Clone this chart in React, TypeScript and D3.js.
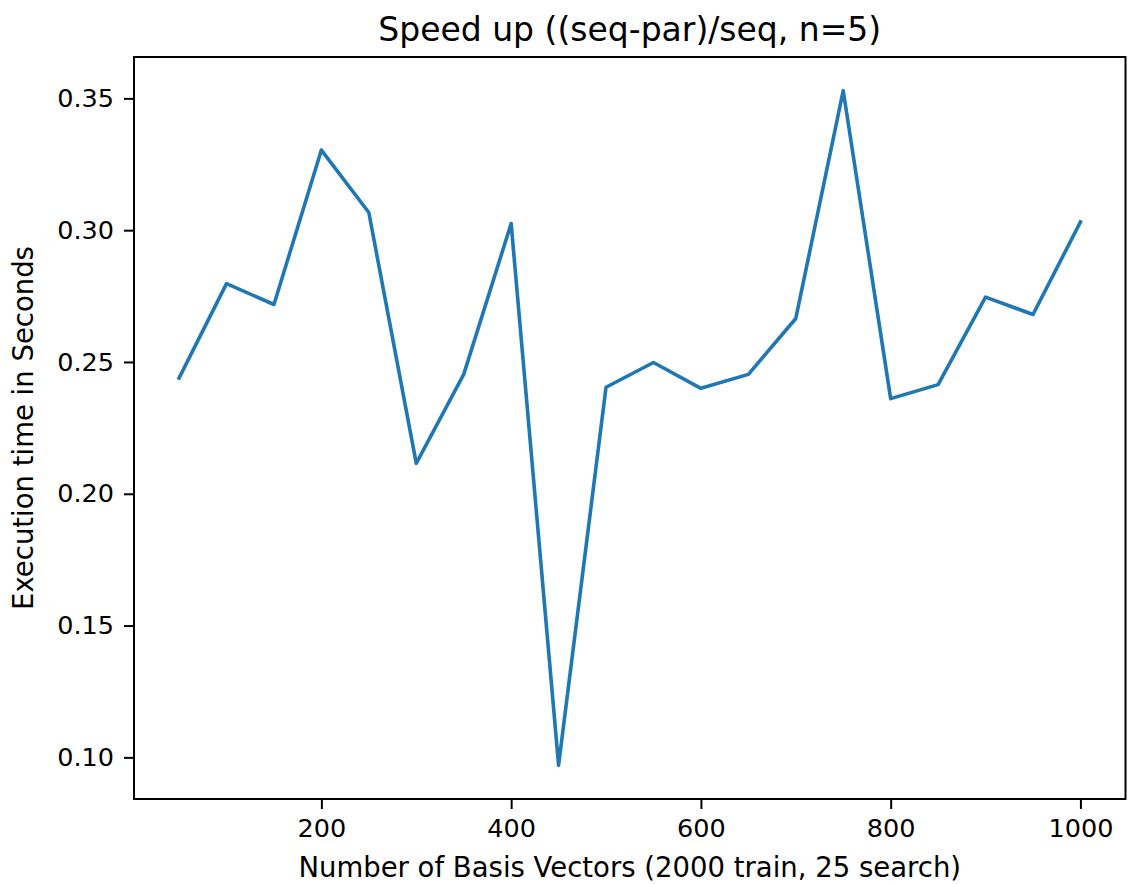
import React, { useEffect, useRef } from 'react';
import * as d3 from 'd3';

// number of basis vectors
const basisVectors = [50, 100, 150, 200, 250, 300, 350, 400, 450, 500, 550, 600, 650, 700, 750, 800, 850, 900, 950, 1000];
// speed up ratio
const speedUp = [0.2439, 0.2797, 0.2718, 0.3304, 0.3067, 0.2115, 0.2453, 0.3025, 0.0970, 0.2404, 0.2498, 0.2400, 0.2453, 0.2665, 0.3529, 0.2361, 0.2414, 0.2746, 0.2680, 0.3031];
const xTicks = [200, 400, 600, 800, 1000];
const yTicks = [0.10, 0.15, 0.20, 0.25, 0.30, 0.35];

const W = 1128;
const H = 884;
const margin = { top: 57, right: 2.5, bottom: 85, left: 134 };
const font = "'DejaVu Sans', sans-serif";

export default function App() {
    const ref = useRef<SVGSVGElement>(null);

    useEffect(() => {
        const svg = d3.select(ref.current);
        svg.selectAll('*').remove();

        const width = W - margin.left - margin.right;
        const height = H - margin.top - margin.bottom;

        // matplotlib style 5% padding
        const xPad = (1000 - 50) * 0.05;
        const yMin = d3.min(speedUp) as number;
        const yMax = d3.max(speedUp) as number;
        const yPad = (yMax - yMin) * 0.05;

        const x = d3.scaleLinear().domain([50 - xPad, 1000 + xPad]).range([0, width]);
        const y = d3.scaleLinear().domain([yMin - yPad, yMax + yPad]).range([height, 0]);

        const g = svg.append('g').attr('transform', `translate(${margin.left},${margin.top})`);

        const line = d3.line<number>()
            .x((d, i) => x(basisVectors[i]))
            .y(d => y(d));

        g.append('path')
            .datum(speedUp)
            .attr('fill', 'none')
            .attr('stroke', '#1f77b4')
            .attr('stroke-width', 3.6)
            .attr('stroke-linejoin', 'round')
            .attr('stroke-linecap', 'square')
            .attr('d', line);

        // x axis
        const xAxis = g.append('g')
            .attr('transform', `translate(0,${height})`)
            .call(d3.axisBottom(x).tickValues(xTicks).tickFormat(d3.format('d')).tickSize(10).tickPadding(10));
        xAxis.select('.domain').remove();
        xAxis.selectAll('line').attr('stroke', '#000').attr('stroke-width', 2);
        xAxis.selectAll('text').attr('font-family', font).attr('font-size', 25.5).attr('fill', '#000');

        // y axis
        const yAxis = g.append('g')
            .call(d3.axisLeft(y).tickValues(yTicks).tickFormat(d3.format('.2f')).tickSize(10).tickPadding(10));
        yAxis.select('.domain').remove();
        yAxis.selectAll('line').attr('stroke', '#000').attr('stroke-width', 2);
        yAxis.selectAll('text').attr('font-family', font).attr('font-size', 25.5).attr('fill', '#000');

        // frame
        g.append('rect')
            .attr('x', 0).attr('y', 0)
            .attr('width', width).attr('height', height)
            .attr('fill', 'none')
            .attr('stroke', '#000')
            .attr('stroke-width', 2);

        // title
        svg.append('text')
            .attr('x', margin.left + width / 2)
            .attr('y', 41)
            .attr('text-anchor', 'middle')
            .attr('font-family', font)
            .attr('font-size', 33)
            .text('Speed up ((seq-par)/seq, n=5)');

        // x label
        svg.append('text')
            .attr('x', margin.left + width / 2)
            .attr('y', 876.5)
            .attr('text-anchor', 'middle')
            .attr('font-family', font)
            .attr('font-size', 27.5)
            .text('Number of Basis Vectors (2000 train, 25 search)');

        // y label
        svg.append('text')
            .attr('transform', `translate(33,${margin.top + height / 2}) rotate(-90)`)
            .attr('text-anchor', 'middle')
            .attr('font-family', font)
            .attr('font-size', 27.5)
            .text('Execution time in Seconds');
    }, []);

    return (
        <svg ref={ref} width={W} height={H} style={{ position: 'absolute', left: 0, top: 0, background: '#fff' }} />
    );
}
